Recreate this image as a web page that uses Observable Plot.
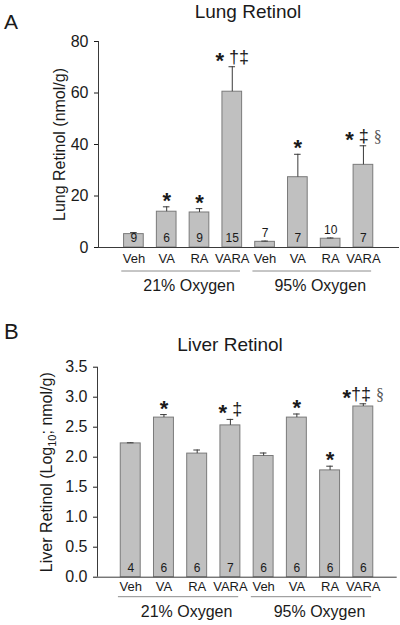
<!DOCTYPE html>
<html>
<head>
<meta charset="utf-8">
<script src="https://cdn.jsdelivr.net/npm/d3@7"></script>
<script src="https://cdn.jsdelivr.net/npm/@observablehq/plot@0.6"></script>
<style>
  html, body { margin: 0; padding: 0; background: #fff; }
  #fig { position: relative; width: 400px; height: 625px; overflow: hidden;
         font-family: "Liberation Sans", Arial, Helvetica, sans-serif; color: #1a1a1a; }
  .abs { position: absolute; white-space: nowrap; line-height: 1; }
  .ttl { transform: translateX(-50%); font-size: 19px; }
  .pl { font-size: 21px; }
  svg text { white-space: pre; }
</style>
</head>
<body>
<div id="fig">
  <div id="plotA" class="abs" style="left:0;top:0"></div>
  <div id="plotB" class="abs" style="left:0;top:300px"></div>
  <div class="abs pl" style="left:4px;top:10.5px">A</div>
  <div class="abs ttl" style="left:248px;top:2px">Lung Retinol</div>
  <div class="abs pl" style="left:4px;top:320.5px;font-size:22px">B</div>
  <div class="abs ttl" style="left:230px;top:334.5px">Liver Retinol</div>
</div>
<script>
// ---- data ----
const categories = ["Veh", "VA", "RA", "VARA", "Veh", "VA", "RA", "VARA"];
const oxygenGroups = ["21% Oxygen", "21% Oxygen", "21% Oxygen", "21% Oxygen",
                      "95% Oxygen", "95% Oxygen", "95% Oxygen", "95% Oxygen"];
const groupNames = ["21% Oxygen", "95% Oxygen"];

const lungMean = [5.2, 13.9, 13.6, 60.5, 2.2, 27.3, 3.4, 32.1];
const lungSem  = [0.6, 1.9, 1.5, 9.7, 0.3, 8.9, 0.3, 7.4];
const lungN    = [9, 6, 9, 15, 7, 7, 10, 7];
const lungSig  = ["", "*", "*", "* †‡", "", "*", "", "* ‡ §"];
const lungTicks = [0, 20, 40, 60, 80];

const liverMean = [2.23, 2.66, 2.06, 2.53, 2.02, 2.66, 1.78, 2.845];
const liverSem  = [0.01, 0.05, 0.06, 0.10, 0.05, 0.06, 0.07, 0.045];
const liverN    = [4, 6, 6, 7, 6, 6, 6, 6];
const liverSig  = ["", "*", "", "* ‡", "", "*", "*", "*†‡ §"];
const liverTicks = [0, 0.5, 1, 1.5, 2, 2.5, 3, 3.5];

const sans = '"Liberation Sans", Arial, Helvetica, sans-serif';
const serif = '"Liberation Serif", "Times New Roman", serif';

function makePanel(cfg) {
  const rows = categories.map((cat, i) => ({
    pos: i + 1, cat, group: oxygenGroups[i],
    mean: cfg.mean[i], top: cfg.mean[i] + cfg.sem[i], n: cfg.n[i], sig: cfg.sig[i]
  }));
  const yMax = cfg.yDomain[1];
  const groups = groupNames.map(name => {
    const r = rows.filter(d => d.group === name);
    const first = r[0].pos, last = r[r.length - 1].pos;
    return {name, first, last, mid: (first + last) / 2};
  });

  const groupLines = (index, scales, values, dims) => {
    const y = dims.height - dims.marginBottom + cfg.lineDy;
    const g = d3.create("svg:g").attr("stroke", "#8c8c8c").attr("stroke-width", 1);
    for (const gr of groups) {
      g.append("line")
        .attr("x1", scales.x(gr.first - 0.37)).attr("x2", scales.x(gr.last + 0.25))
        .attr("y1", y).attr("y2", y);
    }
    return g.node();
  };

  const svg = Plot.plot({
    width: 400, height: cfg.height,
    marginTop: cfg.marginTop, marginBottom: cfg.marginBottom,
    marginLeft: cfg.marginLeft, marginRight: cfg.marginRight,
    style: {fontFamily: sans, fontSize: "16px", color: "#1a1a1a", background: "transparent", overflow: "visible"},
    x: {type: "linear", domain: cfg.xDomain, axis: null},
    y: {domain: cfg.yDomain},
    marks: [
      Plot.rectY(rows, {x1: d => d.pos - 0.3, x2: d => d.pos + 0.3, y1: 0, y2: "mean",
                        fill: "#c0c0c0", stroke: "#7a7a7a", strokeWidth: 1}),
      Plot.ruleX(rows, {x: "pos", y1: "mean", y2: "top", stroke: "#3a3a3a"}),
      Plot.ruleY(rows, {y: "top", x1: d => d.pos - 0.1, x2: d => d.pos + 0.1, stroke: "#3a3a3a"}),
      Plot.ruleX([cfg.xDomain[0]], {stroke: "#3a3a3a"}),
      Plot.ruleY([0], {stroke: "#3a3a3a"}),
      Plot.axisY({ticks: cfg.yTicks, tickFormat: cfg.yFormat, tickSize: 4, tickPadding: 6,
                  fontSize: 16, label: cfg.yLabel, labelAnchor: "center",
                  labelOffset: cfg.labelOffset, labelArrow: "none"}),
      Plot.text(rows.filter(d => d.mean / yMax >= 0.05),
                {x: "pos", y: 0, text: d => String(d.n), dy: -9, fontSize: 12, lineAnchor: "middle"}),
      Plot.text(rows.filter(d => d.mean / yMax < 0.05),
                {x: "pos", y: "top", text: d => String(d.n), dy: -8, fontSize: 12, lineAnchor: "middle"}),
      Plot.text(rows.filter(d => d.sig), {x: "pos", y: "top", text: "sig", dy: -4, fontSize: 18}),
      Plot.text(rows, {x: "pos", text: "cat", frameAnchor: "bottom", lineAnchor: "middle",
                       dy: cfg.catDy, fontSize: 13}),
      groupLines,
      Plot.text(groups, {x: "mid", text: "name", frameAnchor: "bottom", lineAnchor: "middle",
                         dy: cfg.groupDy, dx: 6, fontSize: 16})
    ]
  });

  // styling of significance marks and y label (text stays real text)
  d3.select(svg).selectAll("text").each(function () {
    const s = this.textContent;
    const el = d3.select(this);
    if (/[*†‡§]/.test(s) && !this.querySelector("tspan")) {
      el.text(null).attr("y", 0);
      const tokens = [];
      for (const ch of s) {
        const type = ch === "*" ? "star" : ch === "§" ? "sect" : "norm";
        if (tokens.length && tokens[tokens.length - 1].type === type) tokens[tokens.length - 1].t += ch;
        else tokens.push({type, t: ch});
      }
      let cur = 0;
      for (const tk of tokens) {
        const target = tk.type === "star" ? 5 : 0;
        const ts = el.append("tspan").text(tk.t).attr("dy", target - cur);
        cur = target;
        if (tk.type === "star") ts.attr("font-weight", "bold").attr("font-size", 22);
        if (tk.type === "sect") ts.attr("font-family", serif).attr("fill", "#555").attr("font-size", 16);
      }
    } else if (s.includes("Retinol (")) {
      el.text(null);
      for (const part of cfg.labelParts) {
        const ts = el.append("tspan").text(part.t);
        if (part.sub) ts.attr("font-size", 11).attr("dy", 4);
        else if (part.after) ts.attr("dy", -4);
      }
    }
  });
  return svg;
}

document.getElementById("plotA").append(makePanel({
  mean: lungMean, sem: lungSem, n: lungN, sig: lungSig,
  yDomain: [0, 80], yTicks: lungTicks, yFormat: d3.format("d"),
  yLabel: "Lung Retinol (nmol/g)",
  labelParts: [{t: "Lung Retinol (nmol/g)"}],
  height: 300, marginTop: 41, marginBottom: 53, marginLeft: 98, marginRight: 1,
  xDomain: [-0.08, 9.1], labelOffset: 45,
  catDy: 11, lineDy: 24, groupDy: 38.5
}));

document.getElementById("plotB").append(makePanel({
  mean: liverMean, sem: liverSem, n: liverN, sig: liverSig,
  yDomain: [0, 3.5], yTicks: liverTicks, yFormat: d3.format(".1f"),
  yLabel: "Liver Retinol (Log10; nmol/g)",
  labelParts: [{t: "Liver Retinol (Log"}, {t: "10", sub: true}, {t: "; nmol/g)", after: true}],
  height: 325, marginTop: 66.7, marginBottom: 48.3, marginLeft: 97, marginRight: 3.3,
  xDomain: [0, 9.02], labelOffset: 57,
  catDy: 10, lineDy: 20, groupDy: 35
}));
</script>
</body>
</html>
